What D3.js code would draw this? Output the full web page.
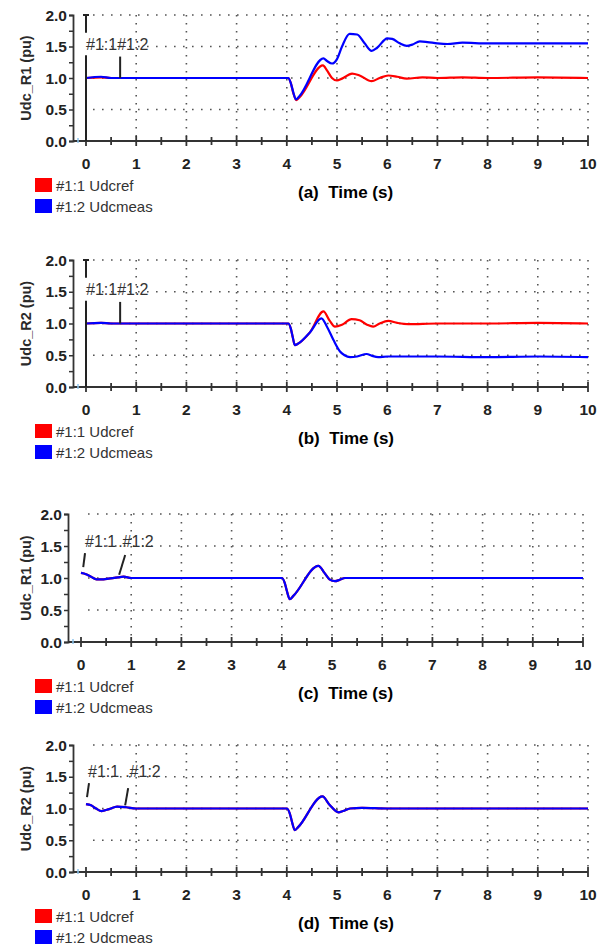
<!DOCTYPE html>
<html>
<head>
<meta charset="utf-8">
<script src="https://cdn.jsdelivr.net/npm/d3@7/dist/d3.min.js"></script>
<style>
  html, body { margin: 0; padding: 0; background: #fff; }
  svg { display: block; font-family: "Liberation Sans", Arial, sans-serif; }
</style>
</head>
<body>
<svg id="fig" width="605" height="945"></svg>
<script>
// DC voltage responses (pu) over 0-10 s: reference (Udcref) and measured (Udcmeas)
const xTicks = [0, 1, 2, 3, 4, 5, 6, 7, 8, 9, 10];
const yTicks = [0.0, 0.5, 1.0, 1.5, 2.0];
const seriesNames = ["#1:1 Udcref", "#1:2 Udcmeas"];
const panelLetters = ["(a)", "(b)", "(c)", "(d)"];
const yLabels = ["Udc_R1 (pu)", "Udc_R2 (pu)", "Udc_R1 (pu)", "Udc_R2 (pu)"];

// (a) rectifier R1
const refA = [[0,1.0],[0.3,1.01],[0.5,1.0],[1.5,1.0],[2.5,1.0],[3.5,1.0],[4.03,1.0],[4.08,0.92],[4.13,0.76],[4.19,0.65],
  [4.26,0.7],[4.72,1.2],[4.8,1.12],[4.9,1.0],[5.0,0.96],[5.1,0.99],[5.3,1.07],[5.45,1.04],[5.69,0.95],[5.85,1.0],
  [6.02,1.04],[6.2,1.02],[6.39,0.99],[6.7,1.01],[7.0,1.0],[7.5,1.01],[8.0,1.0],[9.0,1.01],[10.0,1.0]];
const measA = [[0,1.0],[0.3,1.02],[0.5,1.0],[1.5,1.0],[2.5,1.0],[3.5,1.0],[4.03,1.0],[4.08,0.92],[4.13,0.77],[4.18,0.66],
  [4.25,0.71],[4.73,1.31],[4.8,1.27],[4.9,1.23],[5.0,1.3],[5.1,1.5],[5.25,1.70],[5.4,1.69],[5.55,1.55],[5.69,1.43],
  [5.8,1.48],[6.0,1.63],[6.1,1.62],[6.25,1.55],[6.39,1.51],[6.5,1.53],[6.65,1.58],[6.8,1.57],[7.0,1.55],[7.2,1.54],
  [7.5,1.56],[8.0,1.55],[10.0,1.55]];

// (b) rectifier R2
const refB = [[0,1.0],[0.3,1.01],[0.5,1.0],[2.0,1.0],[3.5,1.0],[4.03,1.0],[4.08,0.92],[4.12,0.78],[4.16,0.66],[4.22,0.68],
  [4.46,0.86],[4.73,1.19],[4.85,1.05],[4.96,0.95],[5.1,0.98],[5.29,1.07],[5.45,1.05],[5.6,0.98],[5.72,0.95],
  [5.85,1.0],[6.02,1.04],[6.2,1.01],[6.42,0.99],[7.0,1.0],[8.0,1.0],[9.0,1.01],[10.0,1.0]];
const measB = [[0,1.0],[0.3,1.01],[0.5,1.0],[2.0,1.0],[3.5,1.0],[4.03,1.0],[4.08,0.92],[4.12,0.78],[4.16,0.66],[4.22,0.68],
  [4.46,0.86],[4.69,1.08],[4.8,0.95],[4.93,0.74],[5.06,0.56],[5.15,0.5],[5.26,0.47],[5.4,0.48],[5.59,0.52],
  [5.7,0.49],[5.82,0.47],[6.0,0.48],[6.5,0.48],[7.0,0.48],[8.0,0.47],[9.0,0.48],[10.0,0.47]];

// (c) rectifier R1
const refC = [[0,1.08],[0.1,1.06],[0.2,1.02],[0.31,0.98],[0.45,0.98],[0.55,0.99],[0.74,1.01],[0.85,1.02],[1.0,1.0],
  [2.0,1.0],[3.0,1.0],[4.0,1.0],[4.06,0.92],[4.1,0.8],[4.16,0.67],[4.23,0.72],[4.73,1.19],[4.85,1.08],[4.95,0.98],
  [5.06,0.95],[5.15,0.97],[5.26,1.0],[5.5,1.0],[6.0,1.0],[10.0,1.0]];
const measC = [[0,1.08],[0.1,1.06],[0.2,1.02],[0.31,0.98],[0.45,0.98],[0.55,0.99],[0.74,1.01],[0.85,1.02],[1.0,1.0],
  [2.0,1.0],[3.0,1.0],[4.0,1.0],[4.06,0.92],[4.1,0.8],[4.16,0.67],[4.23,0.72],[4.73,1.19],[4.85,1.08],[4.95,0.98],
  [5.06,0.95],[5.15,0.97],[5.26,1.0],[5.5,1.0],[6.0,1.0],[10.0,1.0]];

// (d) rectifier R2
const refD = [[0,1.07],[0.1,1.05],[0.2,1.0],[0.31,0.96],[0.46,0.99],[0.62,1.03],[0.8,1.02],[1.0,1.0],[2.0,1.0],
  [3.0,1.0],[4.0,1.0],[4.06,0.92],[4.1,0.8],[4.16,0.66],[4.23,0.71],[4.71,1.19],[4.85,1.06],[5.03,0.94],[5.12,0.96],
  [5.26,1.0],[5.5,1.01],[6.0,1.0],[10.0,1.0]];
const measD = [[0,1.07],[0.1,1.05],[0.2,1.0],[0.31,0.96],[0.46,0.99],[0.62,1.03],[0.8,1.02],[1.0,1.0],[2.0,1.0],
  [3.0,1.0],[4.0,1.0],[4.06,0.92],[4.1,0.8],[4.16,0.66],[4.23,0.71],[4.71,1.19],[4.85,1.06],[5.03,0.94],[5.12,0.96],
  [5.26,1.0],[5.5,1.01],[6.0,1.0],[10.0,1.0]];

const colors = ["#ff0000", "#0000ff"];

// Curve-label annotations: label anchor and leader segments in data units
const annotsAB = {
  texts: [{ t: 0.0, v: 1.45, s: "#1:1#1:2" }],
  leaders: [[[0, 2.0], [0, 1.72]], [[0, 1.36], [0, 0]], [[0.68, 1.0], [0.68, 1.34]]],
  cap: true
};
const annotsC = {
  texts: [{ t: 0.08, v: 1.48, s: "#1:1" }, { t: 0.74, v: 1.48, s: ".#1:2" }],
  leaders: [[[0.045, 1.17], [0.08, 1.39]], [[0.76, 1.05], [0.88, 1.36]]],
  cap: false
};
const annotsD = {
  texts: [{ t: 0.04, v: 1.5, s: "#1:1" }, { t: 0.78, v: 1.5, s: ".#1:2" }],
  leaders: [[[0.02, 1.18], [0.06, 1.4]], [[0.78, 1.05], [0.84, 1.32]]],
  cap: false
};

const panels = [
  { top: 15,  bottom: 141, x0: 86, x1: 588, ref: refA, meas: measA, ann: annotsAB },
  { top: 260, bottom: 387, x0: 86, x1: 588, ref: refB, meas: measB, ann: annotsAB },
  { top: 514, bottom: 642, x0: 81, x1: 583, ref: refC, meas: measC, ann: annotsC },
  { top: 745, bottom: 872, x0: 86, x1: 588, ref: refD, meas: measD, ann: annotsD }
];

const svg = d3.select("#fig");
const ink = "#222";

panels.forEach((p, i) => {
  const x = d3.scaleLinear().domain([0, 10]).range([p.x0, p.x1]);
  const y = d3.scaleLinear().domain([0, 2]).range([p.bottom, p.top]);
  const g = svg.append("g");
  const axisX = p.x0 - 13;

  // dotted grid
  g.append("g").selectAll("line").data(yTicks.filter(v => v > 0)).join("line")
    .attr("x1", x(0) + 7).attr("x2", x(10))
    .attr("y1", d => y(d)).attr("y2", d => y(d))
    .attr("stroke", "#555").attr("stroke-width", 1.6)
    .attr("stroke-dasharray", "1.6,7.4");
  g.append("g").selectAll("line").data(xTicks.filter(t => t > 0)).join("line")
    .attr("x1", d => x(d)).attr("x2", d => x(d))
    .attr("y1", y(2)).attr("y2", y(0))
    .attr("stroke", "#555").attr("stroke-width", 1.6)
    .attr("stroke-dasharray", "1.6,6.4");

  // y axis with quarter ticks
  const yAx = d3.axisLeft(y).tickValues(d3.range(0, 2.01, 0.25))
    .tickSize(4).tickFormat("");
  const yg = g.append("g").attr("transform", `translate(${axisX},0)`).call(yAx);
  yg.select(".domain").attr("stroke", "#333").attr("stroke-width", 1.8);
  yg.selectAll(".tick line").attr("stroke", "#333").attr("stroke-width", 1.5);
  g.append("g").selectAll("text").data(yTicks).join("text")
    .attr("x", axisX - 6).attr("y", d => y(d) + 5.5)
    .attr("text-anchor", "end")
    .attr("font-size", 15.5).attr("font-weight", "bold").attr("fill", ink)
    .text(d => d.toFixed(1));

  // x axis with half-second ticks crossing the line
  g.append("line").attr("x1", axisX).attr("x2", x(10))
    .attr("y1", y(0)).attr("y2", y(0))
    .attr("stroke", "#333").attr("stroke-width", 2);
  g.append("g").selectAll("line").data(d3.range(0, 10.01, 0.5)).join("line")
    .attr("x1", d => x(d)).attr("x2", d => x(d))
    .attr("y1", d => y(0) - (d % 1 === 0 ? 5 : 4))
    .attr("y2", d => y(0) + (d % 1 === 0 ? 5 : 4))
    .attr("stroke", "#333").attr("stroke-width", 1.8);
  g.append("g").selectAll("text").data(xTicks).join("text")
    .attr("x", d => x(d)).attr("y", y(0) + 28)
    .attr("text-anchor", "middle")
    .attr("font-size", 15.5).attr("font-weight", "bold").attr("fill", ink)
    .text(d => d);

  // small marker near the origin
  g.append("line").attr("x1", axisX + 5).attr("x2", axisX + 5)
    .attr("y1", y(0) - 3).attr("y2", y(0) + 2)
    .attr("stroke", "#8cc4ee").attr("stroke-width", 1.5);

  // y axis title
  g.append("text")
    .attr("transform", `translate(31,${(p.top + p.bottom) / 2}) rotate(-90)`)
    .attr("text-anchor", "middle")
    .attr("font-size", 14.5).attr("font-weight", "bold").attr("fill", "#2a2a2a")
    .text(yLabels[i]);

  // curves
  const line = d3.line().x(d => x(d[0])).y(d => y(d[1])).curve(d3.curveMonotoneX);
  [p.ref, p.meas].forEach((s, k) => {
    g.append("path").datum(s).attr("d", line)
      .attr("fill", "none").attr("stroke", colors[k])
      .attr("stroke-width", 2.2).attr("stroke-linejoin", "round");
  });

  // curve labels and leaders
  p.ann.leaders.forEach(seg => {
    g.append("line")
      .attr("x1", x(seg[0][0])).attr("y1", y(seg[0][1]))
      .attr("x2", x(seg[1][0])).attr("y2", y(seg[1][1]))
      .attr("stroke", "#222").attr("stroke-width", 2);
  });
  if (p.ann.cap) {
    g.append("line").attr("x1", x(0) - 3).attr("x2", x(0) + 3)
      .attr("y1", y(2)).attr("y2", y(2))
      .attr("stroke", "#222").attr("stroke-width", 2);
  }
  p.ann.texts.forEach(a => {
    g.append("text").attr("x", x(a.t)).attr("y", y(a.v))
      .attr("font-size", 16).attr("fill", "#333")
      .text(a.s);
  });

  // legend
  const ly = y(0) + 37;
  seriesNames.forEach((name, k) => {
    g.append("rect").attr("x", 35).attr("y", ly + k * 21)
      .attr("width", 17).attr("height", 14).attr("fill", colors[k]);
    g.append("text").attr("x", 56).attr("y", ly + k * 21 + 13)
      .attr("font-size", 15).attr("fill", "#333")
      .text(name);
  });

  // caption
  g.append("text").attr("x", 298).attr("y", y(0) + 57)
    .attr("font-size", 17).attr("font-weight", "bold").attr("fill", "#000")
    .text(panelLetters[i] + "\u00a0 Time (s)");
});
</script>
</body>
</html>
